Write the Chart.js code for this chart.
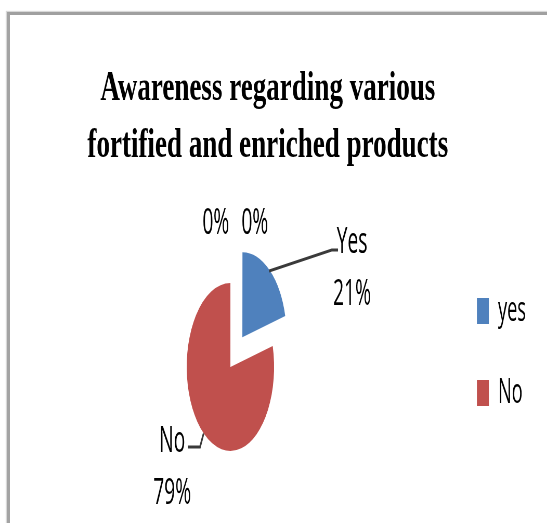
<!DOCTYPE html>
<html>
<head>
<meta charset="utf-8">
<script src="https://cdn.jsdelivr.net/npm/chart.js@4/dist/chart.umd.min.js"></script>
<style>
  html, body { margin: 0; padding: 0; background: #fff; }
  body { width: 547px; height: 523px; overflow: hidden; position: relative; }
  #frame {
    position: absolute; left: 7px; top: 12px; width: 620px; height: 600px;
    border-top: 3px solid #a0a0a0; border-left: 3px solid #a3a3a3;
    box-shadow: -1px -1px 1px #d8d8d8;
  }
  /* the chart is laid out wide and squeezed horizontally */
  #stage {
    position: absolute; left: 0; top: 0; width: 1052px; height: 523px;
    transform: scaleX(0.52); transform-origin: 0 0;
  }
</style>
</head>
<body>
<div id="frame"></div>
<div id="stage"><canvas id="chart"></canvas></div>
<script>
const titleLines = ['Awareness regarding various', 'fortified and enriched products'];
const categories = ['yes', 'No', '', ''];
const labelNames = ['Yes', 'No', '', ''];
const values = [21, 79, 0, 0];
const sliceColors = ['#4f81bd', '#c0504d', '#9bbb59', '#8064a2'];

// where each value label sits, relative to the outer edge point of its slice
const labelLayout = [
  { dx: 159.5, dy: -5,   leader: [[120.5, -21], [132.5, -21]] },
  { dx: -60.5, dy: 31.6, leader: [[-6.9, 13.6], [-30, 13.6]] },
  { dx: -28,   dy: -62,  leader: null },
  { dx: 47,    dy: -62,  leader: null }
];

Chart.defaults.font.family = '"Open Sans", sans-serif';
Chart.defaults.color = '#000';

// two-line bold serif heading, drawn slightly flattened
const squeezedTitle = {
  id: 'squeezedTitle',
  afterDraw(chart, args, opts) {
    const ctx = chart.ctx;
    ctx.save();
    ctx.font = `bold ${opts.size}px "Liberation Serif", "Times New Roman", serif`;
    ctx.fillStyle = opts.color;
    ctx.textAlign = 'center';
    ctx.textBaseline = 'alphabetic';
    opts.lines.forEach((line, i) => {
      ctx.save();
      ctx.translate(opts.x, opts.baseline + i * opts.lineGap);
      ctx.scale(1, opts.squash);
      ctx.fillText(line, 0, 0);
      ctx.restore();
    });
    ctx.restore();
  }
};

// category name + percentage next to every slice, with leader lines
const sliceLabels = {
  id: 'sliceLabels',
  afterDatasetsDraw(chart, args, opts) {
    const ctx = chart.ctx;
    const meta = chart.getDatasetMeta(0);
    const data = chart.data.datasets[0].data;
    const total = data.reduce((a, b) => a + b, 0);
    ctx.save();
    meta.data.forEach((arc, i) => {
      const p = arc.getProps(['x', 'y', 'startAngle', 'endAngle', 'outerRadius'], true);
      const shift = (arc.options.offset || 0) / 4;
      const mid = (p.startAngle + p.endAngle) / 2;
      const ex = p.x + Math.cos(mid) * (shift + p.outerRadius);
      const ey = p.y + Math.sin(mid) * (shift + p.outerRadius);
      const lay = opts.layout[i];
      if (lay.leader) {
        ctx.beginPath();
        ctx.moveTo(ex, ey);
        lay.leader.forEach(([lx, ly]) => ctx.lineTo(ex + lx, ey + ly));
        ctx.strokeStyle = opts.leaderColor;
        ctx.lineWidth = opts.leaderWidth;
        ctx.stroke();
      }
      const pct = Math.round(data[i] / total * 100) + '%';
      const lines = opts.names[i] ? [opts.names[i], pct] : [pct];
      ctx.font = `${opts.size}px "Open Sans", sans-serif`;
      ctx.fillStyle = opts.color;
      ctx.textAlign = 'center';
      ctx.textBaseline = 'alphabetic';
      const cx = ex + lay.dx, cy = ey + lay.dy;
      const top = cy - (lines.length - 1) * opts.lineGap / 2;
      lines.forEach((t, k) => {
        ctx.fillText(t, cx, top + k * opts.lineGap + opts.capHalf);
      });
    });
    ctx.restore();
  }
};

new Chart(document.getElementById('chart'), {
  type: 'pie',
  data: {
    labels: categories,
    datasets: [{
      data: values,
      backgroundColor: sliceColors,
      borderWidth: 0,
      offset: [150, 0, 0, 0],
      radius: 84
    }]
  },
  options: {
    responsive: true,
    maintainAspectRatio: false,
    animation: false,
    events: [],
    layout: { padding: { left: 16, right: 30.5, top: 246.5, bottom: 35.5 } },
    plugins: {
      title: { display: false },
      tooltip: { enabled: false },
      legend: {
        position: 'right',
        align: 'start',
        labels: {
          boxWidth: 23,
          boxHeight: 26,
          padding: 47,
          color: '#000',
          font: { size: 35, family: '"Open Sans", sans-serif' },
          filter: (item) => item.text !== ''
        }
      },
      squeezedTitle: {
        lines: titleLines, size: 52, squash: 0.83,
        x: 515, baseline: 99.5, lineGap: 57, color: '#000'
      },
      sliceLabels: {
        layout: labelLayout, names: labelNames,
        size: 37, lineGap: 52, capHalf: 13, color: '#000',
        leaderColor: '#3a3a3a', leaderWidth: 3
      }
    }
  },
  plugins: [squeezedTitle, sliceLabels]
});
</script>
</body>
</html>
